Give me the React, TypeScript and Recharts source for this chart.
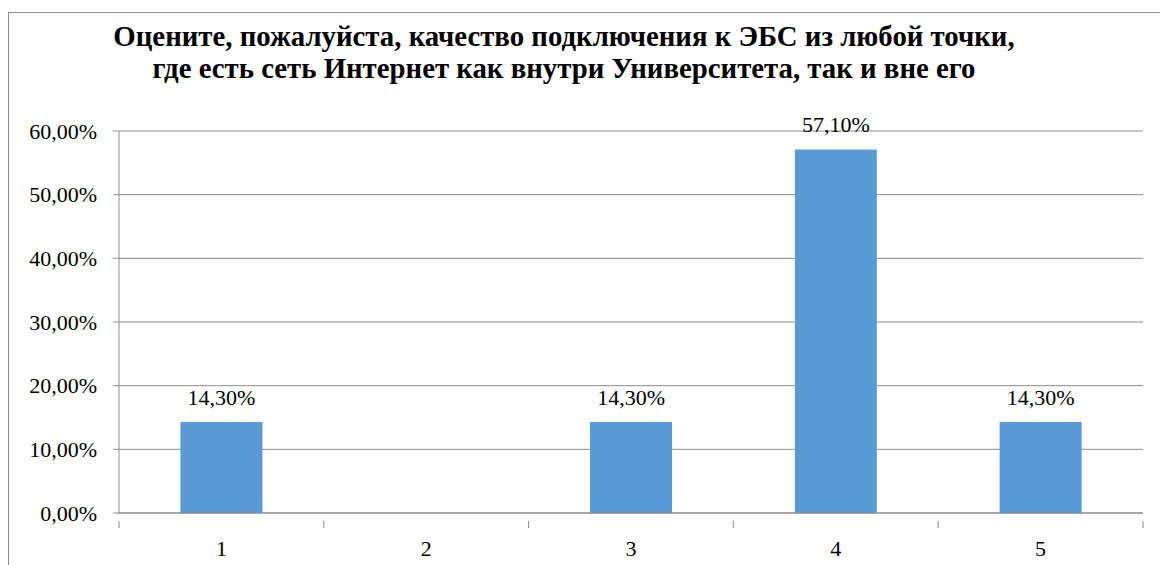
import React from 'react';
import { BarChart, Bar, XAxis, YAxis, CartesianGrid, LabelList } from 'recharts';

const categories = ['1', '2', '3', '4', '5'];
const values = [0.143, 0, 0.143, 0.571, 0.143];
const yTicks = [0, 0.1, 0.2, 0.3, 0.4, 0.5, 0.6];
const titleLines = [
  'Оцените, пожалуйста, качество подключения к ЭБС из любой точки,',
  'где есть сеть Интернет как внутри Университета, так и вне его',
];

const data = categories.map((c, i) => ({ name: c, value: values[i] }));

const FONT = 'Liberation Serif';
const GRID = '#8c8c8c';

const fmtPct = (v: number) => (v * 100).toFixed(2).replace('.', ',') + '%';

const XTick = (props: any) => {
  const { x, y, payload, index, visibleTicksCount, width } = props;
  const band = width / visibleTicksCount;
  const left = x - band / 2;
  const right = x + band / 2;
  return (
    <g>
      <line x1={left} x2={left} y1={y} y2={y + 7} stroke={GRID} strokeWidth={1} />
      {index === visibleTicksCount - 1 && (
        <line x1={right} x2={right} y1={y} y2={y + 7} stroke={GRID} strokeWidth={1} />
      )}
      <text x={x} y={y + 35} textAnchor="middle" style={{ fontFamily: FONT, fontSize: 22 }} fill="#000">
        {payload.value}
      </text>
    </g>
  );
};

export default function App() {
  return (
    <div style={{ position: 'absolute', left: 0, top: 0, width: 1160, height: 565, background: '#fff', overflow: 'hidden' }}>
      <div
        style={{
          position: 'absolute',
          left: 8,
          top: 12,
          width: 1160,
          height: 565,
          borderLeft: '1px solid #8a8a8a',
          borderTop: '1px solid #8a8a8a',
        }}
      />
      <div
        style={{
          position: 'absolute',
          left: 0,
          top: 20,
          width: 1128,
          textAlign: 'center',
          fontFamily: FONT,
          fontWeight: 'bold',
          fontSize: 28.8,
          lineHeight: '32px',
          color: '#000',
          whiteSpace: 'nowrap',
        }}
      >
        {titleLines.map((l, i) => (
          <div key={i}>{l}</div>
        ))}
      </div>
      <div style={{ position: 'absolute', left: 0, top: 0 }}>
        <BarChart
          width={1160}
          height={565}
          data={data}
          margin={{ top: 131, right: 17, bottom: 0, left: 0 }}
          barCategoryGap="30%"
          style={{ fontFamily: FONT }}
        >
          <CartesianGrid horizontal={true} vertical={false} stroke={GRID} strokeWidth={1} />
          <XAxis
            dataKey="name"
            height={52}
            axisLine={{ stroke: GRID }}
            tickLine={false}
            interval={0}
            tick={<XTick />}
          />
          <YAxis
            width={119}
            domain={[0, 0.6]}
            ticks={yTicks}
            tickFormatter={fmtPct}
            axisLine={{ stroke: GRID }}
            tickLine={{ stroke: GRID }}
            tickSize={6}
            tickMargin={16}
            tick={{ style: { fontFamily: FONT, fontSize: 22 }, fill: '#000' }}
          />
          <Bar dataKey="value" fill="#5B9BD5" isAnimationActive={false}>
            <LabelList
              dataKey="value"
              position="top"
              offset={17}
              formatter={(v: any) => (v ? fmtPct(v) : '')}
              style={{ fontFamily: FONT, fontSize: 22, fill: '#000' }}
            />
          </Bar>
        </BarChart>
      </div>
    </div>
  );
}
